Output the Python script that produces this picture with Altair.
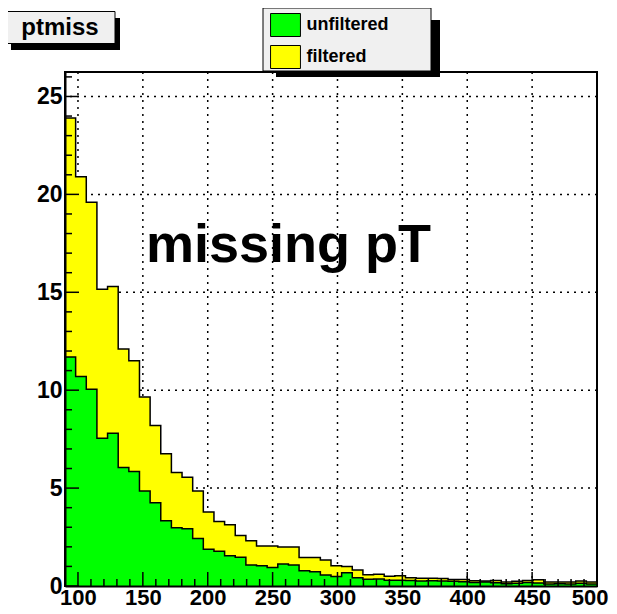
import altair as alt
import pandas as pd

# ---- histogram definition (50 bins from 90 to 500) ----
bin_lo = 90.0
bin_hi = 500.0
n_bins = 50

filtered = [23.9, 20.9, 19.6, 15.15, 15.3, 12.1, 11.5, 9.65, 8.2, 6.75,
            5.8, 5.55, 4.85, 3.78, 3.3, 3.13, 2.58, 2.31, 2.04, 2.04,
            1.99, 1.99, 1.46, 1.46, 1.33, 1.04, 0.99, 0.82, 0.58, 0.6,
            0.5, 0.52, 0.42, 0.4, 0.4, 0.38, 0.33, 0.33, 0.27, 0.26,
            0.28, 0.2, 0.24, 0.28, 0.32, 0.2, 0.2, 0.2, 0.25, 0.2]
unfiltered = [11.7, 10.7, 10.05, 7.55, 7.8, 6.05, 5.85, 4.85, 4.25, 3.33,
              2.98, 2.92, 2.42, 1.88, 1.78, 1.54, 1.47, 1.07, 1.04, 0.95,
              1.12, 1.07, 0.78, 0.73, 0.56, 0.48, 0.68, 0.42, 0.34, 0.36,
              0.3, 0.3, 0.28, 0.26, 0.27, 0.25, 0.24, 0.22, 0.18, 0.2,
              0.16, 0.12, 0.14, 0.18, 0.15, 0.1, 0.12, 0.1, 0.14, 0.1]

series_names = ["unfiltered", "filtered"]
series_colors = ["#00ff00", "#ffff00"]

x_major = [100, 150, 200, 250, 300, 350, 400, 450, 500]
x_minor = [110, 120, 130, 140, 160, 170, 180, 190, 210, 220, 230, 240,
           260, 270, 280, 290, 310, 320, 330, 340, 360, 370, 380, 390,
           410, 420, 430, 440, 460, 470, 480, 490]
x_grid = [100, 150, 200, 250, 300, 350, 400, 450]
y_major = [0, 5, 10, 15, 20, 25]
y_minor = [1, 2, 3, 4, 6, 7, 8, 9, 11, 12, 13, 14, 16, 17, 18, 19,
           21, 22, 23, 24, 26]
y_grid = [5, 10, 15, 20, 25]

title_text = "ptmiss"
annotation = "missing pT"

FONT = "Liberation Sans"
W, H = 532, 514
bw = (bin_hi - bin_lo) / n_bins


def step_rows(vals, name):
    rows = [{"x": bin_lo + i * bw, "y": v, "series": name} for i, v in enumerate(vals)]
    rows.append({"x": bin_hi, "y": vals[-1], "series": name})
    return pd.DataFrame(rows)


df_f = step_rows(filtered, "filtered")
df_u = step_rows(unfiltered, "unfiltered")

xs = alt.Scale(domain=[bin_lo, bin_hi], nice=False, zero=False)
ys = alt.Scale(domain=[0, 26.25], nice=False)

color = alt.Color(
    "series:N",
    scale=alt.Scale(domain=series_names, range=series_colors),
    legend=alt.Legend(
        orient="none", legendX=208.5, legendY=-59, title=None,
        symbolType="M-1.3,-1H1.3V1H-1.3Z", symbolSize=529,
        symbolStrokeColor="black", symbolStrokeWidth=1, symbolOpacity=1,
        labelFontSize=18, labelFont=FONT, labelFontWeight="bold",
        labelColor="black", labelOffset=9, rowPadding=4, padding=0,
    ),
)

x_axis = alt.Axis(values=x_major, grid=False, ticks=False, domain=True,
                  domainColor="black", domainWidth=2, labelFont=FONT,
                  labelFontSize=22, labelFontWeight="bold", labelColor="black",
                  labelPadding=1, labelFlush=True, labelFlushOffset=11,
                  labelOverlap=False, labelBound=False, title=None, zindex=1)
y_axis = alt.Axis(values=y_major, grid=False, ticks=False, domain=True,
                  domainColor="black", domainWidth=2, labelFont=FONT,
                  labelFontSize=23, labelFontWeight="bold", labelColor="black",
                  labelPadding=3, labelFlush=False, labelOverlap=False,
                  labelBound=False, title=None, zindex=1)

base_x = alt.X("x:Q", scale=xs, axis=x_axis)
base_y = alt.Y("y:Q", scale=ys, axis=y_axis)

one = pd.DataFrame({"a": [0]})

# grid
grid_x = alt.Chart(pd.DataFrame({"x": x_grid})).mark_rule(
    color="black", strokeWidth=1.5, strokeDash=[2, 5]).encode(x=base_x)
grid_y = alt.Chart(pd.DataFrame({"y": y_grid})).mark_rule(
    color="black", strokeWidth=1.5, strokeDash=[2, 5]).encode(y=base_y)

# histograms
area_f = alt.Chart(df_f).mark_area(interpolate="step-after", opacity=1).encode(
    x=base_x, y=base_y, color=color)
line_f = alt.Chart(df_f).mark_line(interpolate="step-after", color="black",
                                   strokeWidth=1.5).encode(x=base_x, y=base_y)
area_u = alt.Chart(df_u).mark_area(interpolate="step-after", opacity=1).encode(
    x=base_x, y=base_y, color=color)
line_u = alt.Chart(df_u).mark_line(interpolate="step-after", color="black",
                                   strokeWidth=1.5).encode(x=base_x, y=base_y)

# inward ticks (ROOT style)
tick_x_major = alt.Chart(pd.DataFrame({"x": x_major})).mark_tick(
    orient="vertical", size=14, thickness=1.5, color="black", yOffset=-7, opacity=1
).encode(x=base_x, y=alt.YDatum(0))
tick_x_minor = alt.Chart(pd.DataFrame({"x": x_minor})).mark_tick(
    orient="vertical", size=7, thickness=1.5, color="black", yOffset=-3.5, opacity=1
).encode(x=base_x, y=alt.YDatum(0))
tick_y_major = alt.Chart(pd.DataFrame({"y": y_major})).mark_tick(
    orient="horizontal", size=14, thickness=1.5, color="black", xOffset=7, opacity=1
).encode(y=base_y, x=alt.XDatum(bin_lo))
tick_y_minor = alt.Chart(pd.DataFrame({"y": y_minor})).mark_tick(
    orient="horizontal", size=7, thickness=1.5, color="black", xOffset=3.5, opacity=1
).encode(y=base_y, x=alt.XDatum(bin_lo))

# big annotation text
big_text = alt.Chart(one).mark_text(
    text=annotation, font=FONT, fontSize=54, fontWeight="bold", color="black",
    align="left", baseline="alphabetic"
).encode(x=alt.value(81), y=alt.value(190))

# title box with shadow
title_shadow = alt.Chart(one).mark_rect(color="black").encode(
    x=alt.value(-54), x2=alt.value(55), y=alt.value(-54), y2=alt.value(-22))
title_box = alt.Chart(one).mark_rect(fill="#f0f0f0", stroke="black", strokeWidth=1).encode(
    x=alt.value(-60), x2=alt.value(50), y=alt.value(-60.5), y2=alt.value(-28.5))
title_label = alt.Chart(one).mark_text(
    text=title_text, font=FONT, fontSize=24, fontWeight="bold", color="black",
    align="center", baseline="middle"
).encode(x=alt.value(-5), y=alt.value(-44))

# legend box with shadow
legend_shadow = alt.Chart(one).mark_rect(color="black").encode(
    x=alt.value(211), x2=alt.value(375), y=alt.value(-52), y2=alt.value(5))
legend_box = alt.Chart(one).mark_rect(fill="#f0f0f0", stroke="black", strokeWidth=1).encode(
    x=alt.value(198), x2=alt.value(366), y=alt.value(-64), y2=alt.value(-1))

chart = alt.layer(
    grid_x, grid_y, area_f, line_f, area_u, line_u,
    tick_x_minor, tick_x_major, tick_y_minor, tick_y_major,
    big_text, title_shadow, title_box, title_label, legend_shadow, legend_box,
).properties(
    width=W, height=H, autosize="none",
    padding={"left": 57, "top": 64, "right": 12, "bottom": 26},
    background="white",
).configure_view(stroke="black", strokeWidth=2)

chart.save("out.html", embed_options={"renderer": "svg", "actions": False})
